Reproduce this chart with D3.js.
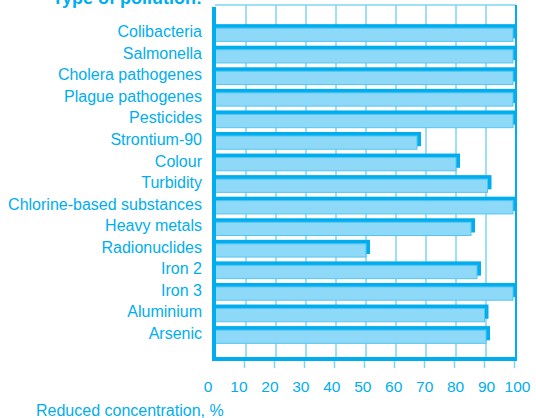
<!DOCTYPE html>
<html>
<head>
<meta charset="utf-8">
<script src="https://cdn.jsdelivr.net/npm/d3@7"></script>
<style>
  html, body { margin: 0; padding: 0; background: #fff; }
  svg { display: block; }
</style>
</head>
<body>
<div id="wrapper"></div>
<script>
// DATA
const categories = [
  "Colibacteria", "Salmonella", "Cholera pathogenes", "Plague pathogenes",
  "Pesticides", "Strontium-90", "Colour", "Turbidity",
  "Chlorine-based substances", "Heavy metals", "Radionuclides", "Iron 2",
  "Iron 3", "Aluminium", "Arsenic"
];
const values = [100, 100, 100, 100, 100, 68, 81, 91.5, 100, 86, 51, 88, 100, 90.5, 91];
const tickValues = [0, 10, 20, 30, 40, 50, 60, 70, 80, 90, 100];

const dark = "#00aeef";
const light = "#8ed8f8";
const lightStroke = "#55c6f1";
const gridColor = "#7fd3f5";
const font = "'Liberation Sans', Arial, sans-serif";

const width = 536, height = 418;
const wallTop = 5, floorY = 357;

const svg = d3.select("#wrapper")
  .append("svg")
  .attr("width", width)
  .attr("height", height);

// SCALES
const x = d3.scaleLinear().domain([0, 100]).range([216, 516]);
const y = d3.scaleBand()
  .domain(categories)
  .range([22, 345.5])
  .paddingInner(0.2)
  .paddingOuter(0.1);

// BACK WALL + GRID
svg.append("line")
  .attr("x1", x(0) - 1).attr("x2", x(100))
  .attr("y1", wallTop).attr("y2", wallTop)
  .attr("stroke", gridColor).attr("stroke-width", 1.5);

svg.append("g")
  .selectAll("line")
  .data(tickValues.slice(1, -1))
  .join("line")
  .attr("x1", d => x(d)).attr("x2", d => x(d))
  .attr("y1", wallTop).attr("y2", floorY)
  .attr("stroke", gridColor)
  .attr("stroke-width", 1.5);

svg.append("line")
  .attr("x1", x(100)).attr("x2", x(100))
  .attr("y1", wallTop).attr("y2", floorY + 4)
  .attr("stroke", dark).attr("stroke-width", 2);

// BARS
const bars = svg.append("g")
  .selectAll("g")
  .data(categories.map((c, i) => ({ name: c, value: values[i] })))
  .join("g");

bars.append("rect")
  .attr("x", x(0) - 3)
  .attr("y", d => y(d.name))
  .attr("width", d => x(d.value) - x(0) + 4)
  .attr("height", y.bandwidth() - 3)
  .attr("fill", dark);

bars.append("rect")
  .attr("x", x(0) - 2)
  .attr("y", d => y(d.name) + 4)
  .attr("width", d => x(d.value) - 3 - (x(0) - 2))
  .attr("height", y.bandwidth() - 4)
  .attr("fill", light)
  .attr("stroke", lightStroke)
  .attr("stroke-width", 1);

// LEFT WALL AND FLOOR
svg.append("rect")
  .attr("x", x(0) - 4).attr("y", wallTop + 2)
  .attr("width", 4).attr("height", floorY + 4 - wallTop - 2)
  .attr("fill", dark);

svg.append("rect")
  .attr("x", x(0) - 4).attr("y", floorY)
  .attr("width", x(100) - x(0) + 5).attr("height", 4)
  .attr("fill", dark);

// TICKS
const xTick = d3.scaleLinear().domain([0, 100]).range([x(0) - 2, x(100) - 2]);
svg.append("g")
  .attr("transform", `translate(0,${floorY + 4})`)
  .call(d3.axisBottom(xTick).tickValues(tickValues.slice(1)).tickSize(7).tickFormat(""))
  .call(g => g.select(".domain").remove())
  .call(g => g.selectAll(".tick line").attr("stroke", gridColor).attr("stroke-width", 1.5));

// TICK LABELS
const xLabel = d3.scaleLinear().domain([0, 100]).range([207.5, 517]);
svg.append("g")
  .attr("transform", "translate(0,392)")
  .call(d3.axisBottom(xLabel).tickValues(tickValues).tickSize(0).tickPadding(0))
  .call(g => g.select(".domain").remove())
  .call(g => g.selectAll(".tick text")
    .attr("dy", 0)
    .attr("fill", dark)
    .attr("font-family", font)
    .attr("font-size", "15.5px"));

// CATEGORY LABELS
svg.append("g")
  .selectAll("text")
  .data(categories)
  .join("text")
  .attr("x", 202)
  .attr("y", d => y(d) + y.bandwidth() / 2)
  .attr("dy", "0.27em")
  .attr("text-anchor", "end")
  .attr("fill", dark)
  .attr("font-family", font)
  .attr("font-size", "16px")
  .text(d => d);

// TITLES
svg.append("text")
  .attr("x", 202)
  .attr("y", 4)
  .attr("text-anchor", "end")
  .attr("fill", dark)
  .attr("font-family", font)
  .attr("font-weight", "bold")
  .attr("font-size", "18px")
  .text("Type of pollution:");

svg.append("text")
  .attr("x", 36)
  .attr("y", 416)
  .attr("fill", dark)
  .attr("font-family", font)
  .attr("font-size", "16px")
  .text("Reduced concentration, %");
</script>
</body>
</html>
